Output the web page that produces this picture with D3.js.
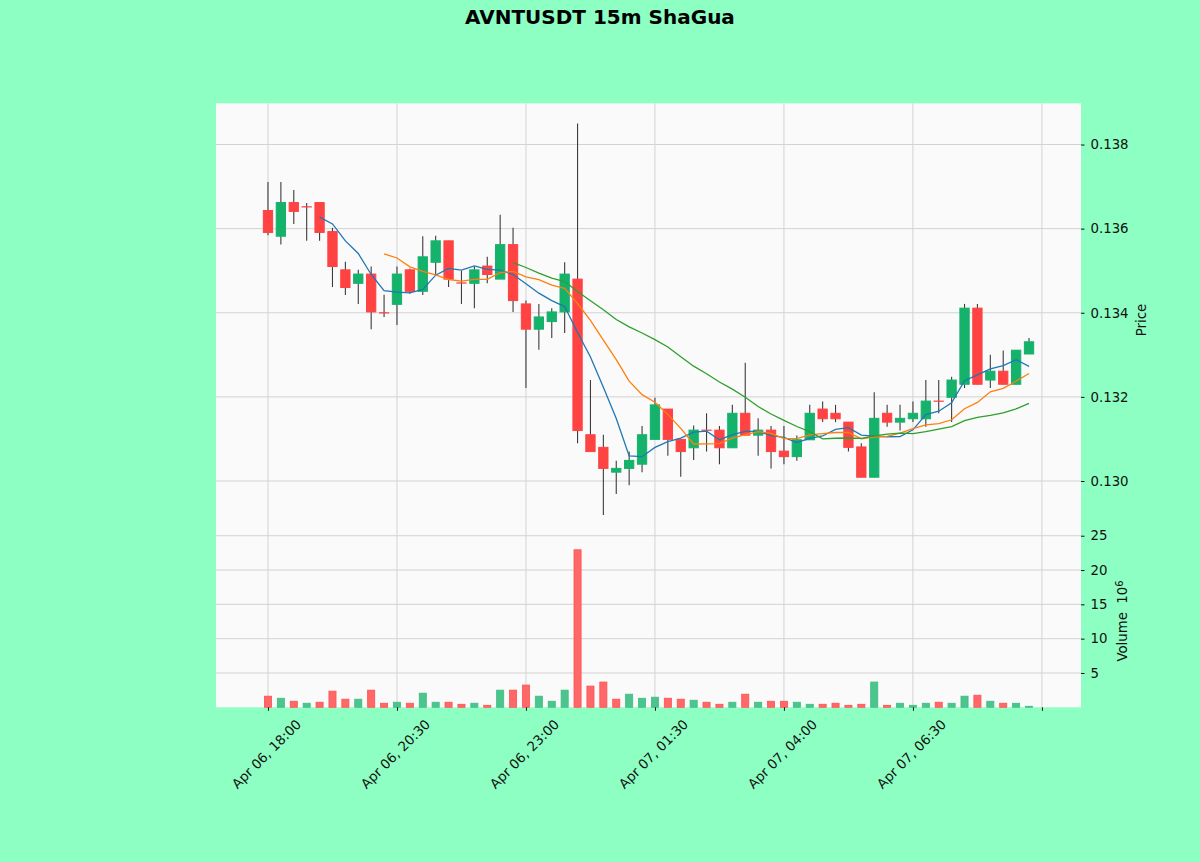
<!DOCTYPE html>
<html><head><meta charset="utf-8">
<script src="https://cdn.jsdelivr.net/npm/d3@7"></script>
<style>
body{margin:0;background:#8dffc3;}
svg{display:block;font-family:"DejaVu Sans",sans-serif;}
</style>
</head><body>
<svg id="chart" width="1200" height="862"></svg>
<script>
// ---- data (15m candles, Apr 06 18:00 -> Apr 07 08:45) ----
const opens  = [0.13643,0.13582,0.13662,0.13652,0.13662,0.13593,0.13502,0.13470,0.13492,0.13400,
                0.13420,0.13502,0.13451,0.13520,0.13571,0.13471,0.13470,0.13511,0.13480,0.13562,
                0.13421,0.13361,0.13379,0.13402,0.13480,0.13110,0.13080,0.13021,0.13030,0.13040,
                0.13099,0.13171,0.13099,0.13079,0.13121,0.13121,0.13079,0.13161,0.13109,0.13121,
                0.13071,0.13058,0.13098,0.13171,0.13161,0.13140,0.13081,0.13009,0.13161,0.13140,
                0.13148,0.13148,0.13190,0.13199,0.13230,0.13411,0.13240,0.13261,0.13230,0.13302];
const highs  = [0.13711,0.13711,0.13692,0.13661,0.13662,0.13602,0.13521,0.13502,0.13510,0.13443,
                0.13510,0.13505,0.13582,0.13583,0.13571,0.13500,0.13510,0.13533,0.13633,0.13602,
                0.13429,0.13421,0.13411,0.13520,0.13850,0.13240,0.13110,0.13048,0.13070,0.13131,
                0.13198,0.13171,0.13099,0.13132,0.13161,0.13131,0.13181,0.13281,0.13149,0.13131,
                0.13131,0.13108,0.13181,0.13189,0.13181,0.13140,0.13090,0.13211,0.13181,0.13181,
                0.13189,0.13240,0.13240,0.13248,0.13421,0.13421,0.13300,0.13310,0.13311,0.13340];
const lows   = [0.13584,0.13562,0.13611,0.13571,0.13571,0.13461,0.13442,0.13421,0.13361,0.13390,
                0.13371,0.13445,0.13442,0.13490,0.13461,0.13421,0.13411,0.13470,0.13480,0.13402,
                0.13221,0.13312,0.13340,0.13352,0.13090,0.13070,0.12919,0.12969,0.12990,0.13021,
                0.13099,0.13060,0.13010,0.13050,0.13070,0.13040,0.13079,0.13109,0.13060,0.13030,
                0.13040,0.13048,0.13098,0.13140,0.13140,0.13070,0.13009,0.13009,0.13129,0.13120,
                0.13140,0.13129,0.13161,0.13140,0.13221,0.13230,0.13221,0.13230,0.13230,0.13302];
const closes = [0.13591,0.13662,0.13641,0.13652,0.13591,0.13510,0.13460,0.13492,0.13402,0.13400,
                0.13492,0.13451,0.13533,0.13571,0.13480,0.13471,0.13502,0.13491,0.13562,0.13429,
                0.13361,0.13390,0.13402,0.13492,0.13120,0.13070,0.13030,0.13030,0.13049,0.13110,
                0.13181,0.13099,0.13070,0.13121,0.13121,0.13079,0.13161,0.13109,0.13121,0.13070,
                0.13058,0.13098,0.13161,0.13148,0.13148,0.13080,0.13009,0.13149,0.13140,0.13149,
                0.13161,0.13190,0.13190,0.13240,0.13411,0.13230,0.13261,0.13230,0.13311,0.13331];
// volume in units of 10^6
const volumes = [1.62,1.32,0.88,0.59,0.74,2.35,1.18,1.18,2.50,0.59,
                 0.74,0.59,2.06,0.74,0.74,0.44,0.59,0.29,2.50,2.50,
                 3.24,1.62,0.88,2.50,22.95,3.09,3.68,1.18,1.91,1.32,
                 1.47,1.32,1.18,1.03,0.74,0.44,0.74,1.91,0.74,0.88,
                 0.88,0.74,0.44,0.44,0.59,0.29,0.44,3.68,0.29,0.59,
                 0.29,0.59,0.74,0.59,1.62,1.76,0.88,0.59,0.59,0.15];
const tickIndex  = [0,10,20,30,40,50,60];
const tickLabels = ["Apr 06, 18:00","Apr 06, 20:30","Apr 06, 23:00","Apr 07, 01:30","Apr 07, 04:00","Apr 07, 06:30",""];
const priceTicks  = [0.130,0.132,0.134,0.136,0.138];
const volumeTicks = [5,10,15,20,25];
const maWindows = [5,10,20];
const maColors  = ["#1f77b4","#ff7f0e","#2ca02c"];

// ---- layout ----
const L = 216, R = 1081, PT = 103.3, PB = 534, VB = 707.3;
const upC = "#15b26b", dnC = "#ff4242";
const volUp = "#4cc48d", volDn = "#ff6868";
const gridC = "#d3d3d3";

const svg = d3.select("#chart");
const x  = d3.scaleLinear().domain([-4.03, 63.03]).range([L, R]);
const yP = d3.scaleLinear().domain([0.12874, 0.13898]).range([PB, PT]);
const yV = d3.scaleLinear().domain([0, 25.25]).range([VB, PB]);
const idx = d3.range(closes.length);
const step = x(1) - x(0);

// title
svg.append("text").attr("x", 600).attr("y", 23.5).attr("text-anchor", "middle")
  .attr("font-size", 20).attr("font-weight", "bold").attr("fill", "#000")
  .text("AVNTUSDT 15m ShaGua");

// panels background
svg.append("rect").attr("x", L).attr("y", PT).attr("width", R - L).attr("height", VB - PT).attr("fill", "#fafafa");

// grid
const grid = svg.append("g").attr("stroke", gridC).attr("stroke-width", 1);
tickIndex.forEach(t => grid.append("line").attr("x1", x(t)).attr("x2", x(t)).attr("y1", PT).attr("y2", VB));
priceTicks.forEach(p => grid.append("line").attr("x1", L).attr("x2", R).attr("y1", yP(p)).attr("y2", yP(p)));
volumeTicks.forEach(v => grid.append("line").attr("x1", L).attr("x2", R).attr("y1", yV(v)).attr("y2", yV(v)));

// volume bars (colored by close vs previous close)
const vw = step * 0.55;
const volIsUp = i => closes[i] > (i ? closes[i - 1] : opens[i]);
svg.append("g").selectAll("rect").data(idx).join("rect")
  .attr("x", i => x(i) - vw / 2)
  .attr("width", vw)
  .attr("y", i => yV(volumes[i]))
  .attr("height", i => yV(0) - yV(volumes[i]))
  .attr("fill", i => volIsUp(i) ? volUp : volDn)
  .attr("stroke", i => volIsUp(i) ? "#3dbd83" : "#ff5050")
  .attr("stroke-width", 0.8);

// wicks
svg.append("g").selectAll("line").data(idx).join("line")
  .attr("x1", i => x(i)).attr("x2", i => x(i))
  .attr("y1", i => yP(highs[i])).attr("y2", i => yP(lows[i]))
  .attr("stroke", "#3c3c3c").attr("stroke-width", 1.1);

// bodies
const bw = step * 0.72;
svg.append("g").selectAll("rect").data(idx).join("rect")
  .attr("x", i => x(i) - bw / 2)
  .attr("width", bw)
  .attr("y", i => yP(Math.max(opens[i], closes[i])))
  .attr("height", i => Math.max(0.2, Math.abs(yP(opens[i]) - yP(closes[i]))))
  .attr("fill", i => closes[i] > opens[i] ? upC : dnC)
  .attr("stroke", i => closes[i] > opens[i] ? upC : dnC)
  .attr("stroke-width", 1);

// moving averages
maWindows.forEach((w, k) => {
  const pts = idx.filter(i => i >= w - 1).map(i => [i, d3.mean(closes.slice(i - w + 1, i + 1))]);
  svg.append("path").datum(pts)
    .attr("d", d3.line().x(d => x(d[0])).y(d => yP(d[1])))
    .attr("fill", "none").attr("stroke", maColors[k]).attr("stroke-width", 1.3);
});

// right axes
const fs = 13.3;
const pAxis = svg.append("g").attr("transform", `translate(${R},0)`)
  .call(d3.axisRight(yP).tickValues(priceTicks).tickFormat(d3.format(".3f")).tickSize(3.5).tickPadding(6));
const vAxis = svg.append("g").attr("transform", `translate(${R},0)`)
  .call(d3.axisRight(yV).tickValues(volumeTicks).tickFormat(d3.format("d")).tickSize(3.5).tickPadding(6));
[pAxis, vAxis].forEach(a => {
  a.select(".domain").remove();
  a.selectAll("text").attr("font-size", fs).attr("font-family", "DejaVu Sans").attr("fill", "#111");
  a.selectAll("line").attr("stroke", "#111");
});

// bottom axis
const bAxis = svg.append("g").attr("transform", `translate(0,${VB})`)
  .call(d3.axisBottom(x).tickValues(tickIndex).tickFormat("").tickSize(3.5));
bAxis.select(".domain").remove();
bAxis.selectAll("line").attr("stroke", "#111");
svg.append("g").selectAll("text").data(tickIndex.map((t, k) => [t, tickLabels[k]])).join("text")
  .attr("transform", d => `translate(${x(d[0]) - 1.5},${754}) rotate(-45)`)
  .attr("text-anchor", "middle").attr("dy", "0.35em")
  .attr("font-size", fs).attr("fill", "#111")
  .text(d => d[1]);

// axis labels
svg.append("text").attr("transform", "translate(1146,320) rotate(-90)")
  .attr("text-anchor", "middle").attr("font-size", fs).attr("fill", "#111").text("Price");
const vl = svg.append("text").attr("transform", "translate(1127,621) rotate(-90)")
  .attr("text-anchor", "middle").attr("font-size", fs).attr("fill", "#111")
  .style("white-space", "pre");
vl.append("tspan").text("Volume  10");
vl.append("tspan").attr("dy", "-0.45em").attr("font-size", fs * 0.75).text("6");
</script>
</body></html>
